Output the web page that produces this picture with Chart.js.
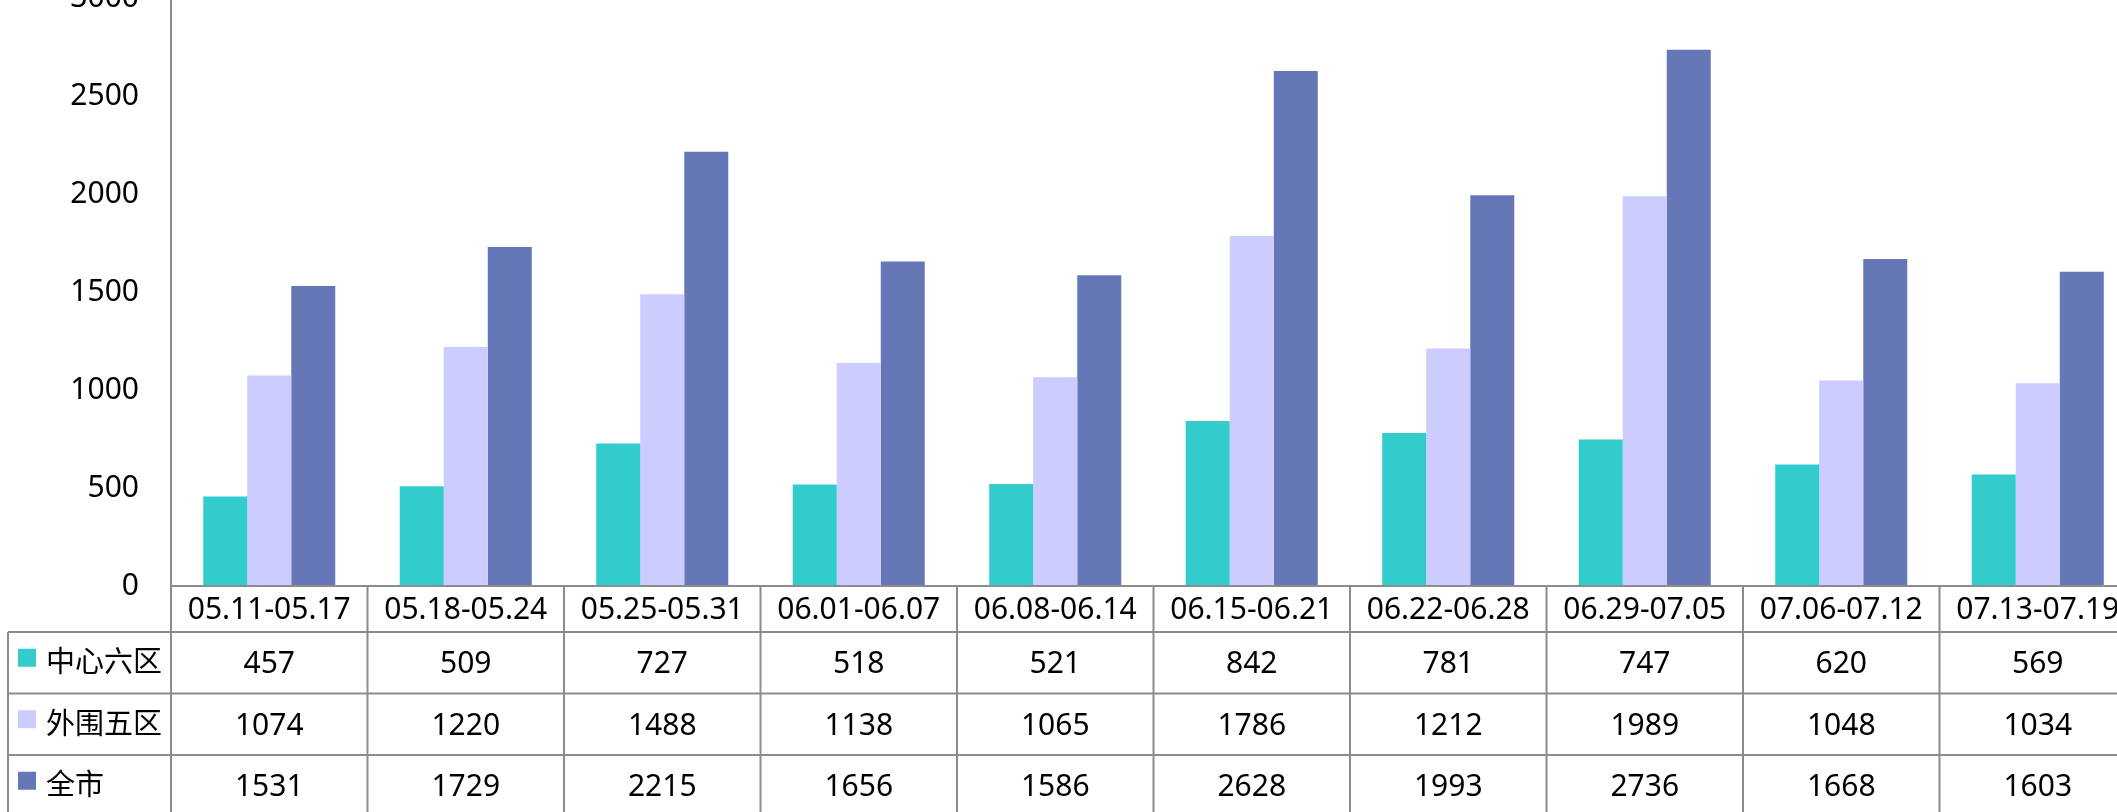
<!DOCTYPE html>
<html>
<head>
<meta charset="utf-8">
<script src="https://cdn.jsdelivr.net/npm/chart.js@4.4.0/dist/chart.umd.min.js"></script>
<style>
    html, body { margin: 0; padding: 0; background: #fff; overflow: hidden; }
    #wrap { position: absolute; left: 0; top: -2px; width: 2140px; height: 820px; }
</style>
</head>
<body>
<div id="wrap"><canvas id="weekChart"></canvas></div>
<script>
// 周期（类别）
const weeks = ['05.11-05.17', '05.18-05.24', '05.25-05.31', '06.01-06.07', '06.08-06.14',
    '06.15-06.21', '06.22-06.28', '06.29-07.05', '07.06-07.12', '07.13-07.19'];

// 各区域数据
const centerSix = [457, 509, 727, 518, 521, 842, 781, 747, 620, 569];
const outerFive = [1074, 1220, 1488, 1138, 1065, 1786, 1212, 1989, 1048, 1034];
const wholeCity = [1531, 1729, 2215, 1656, 1586, 2628, 1993, 2736, 1668, 1603];

const seriesNames = ['中心六区', '外围五区', '全市'];
const seriesColors = ['#33CCCC', '#CCCCFF', '#6677B8'];

// Y 轴刻度
const yMin = 0;
const yMax = 3000;
const yStep = 500;

const FONT = '"Noto Sans", "Noto Sans CJK SC", sans-serif';
const lineColor = '#8c8c8c';

// 图表下方的数据表（手工绘制）
const dataTable = {
    id: 'dataTable',
    afterDraw(chart) {
        const c = chart.ctx;
        const x = chart.scales.x;
        const area = chart.chartArea;
        const colW = x.width / weeks.length;
        const base = area.bottom;
        const headerH = 46;
        const rowH = 61.5;
        const tableLeft = 8;
        const rows = [centerSix, outerFive, wholeCity];

        c.save();
        c.strokeStyle = lineColor;
        c.lineWidth = 2;

        // 横线
        c.beginPath();
        c.moveTo(area.left, base);
        c.lineTo(x.right, base);
        for (let r = 0; r <= rows.length; r++) {
            const y = base + headerH + r * rowH;
            c.moveTo(tableLeft, y);
            c.lineTo(x.right, y);
        }
        // 竖线
        const bottom = chart.height;
        c.moveTo(tableLeft, base + headerH);
        c.lineTo(tableLeft, bottom);
        for (let i = 0; i <= weeks.length; i++) {
            const xx = x.left + i * colW;
            c.moveTo(xx, base);
            c.lineTo(xx, bottom);
        }
        c.stroke();

        c.fillStyle = '#000';
        c.textBaseline = 'middle';
        c.textAlign = 'center';
        c.font = '30px ' + FONT;
        weeks.forEach((w, i) => {
            c.fillText(w, x.getPixelForValue(i), base + headerH / 2 + 1);
        });

        rows.forEach((vals, r) => {
            const cy = base + headerH + r * rowH + rowH / 2;
            vals.forEach((v, i) => {
                c.textAlign = 'center';
                c.fillText(String(v), x.getPixelForValue(i), cy + 2);
            });
            // 图例色块 + 名称
            c.fillStyle = seriesColors[r];
            c.fillRect(18, cy - 14, 18, 18);
            c.fillStyle = '#000';
            c.textAlign = 'left';
            c.font = '29px ' + FONT;
            c.fillText(seriesNames[r], 46, cy + 1);
            c.font = '30px ' + FONT;
        });
        c.restore();
    }
};

const ctx = document.getElementById('weekChart').getContext('2d');
new Chart(ctx, {
    type: 'bar',
    data: {
        labels: weeks,
        datasets: [
            { label: seriesNames[0], data: centerSix, backgroundColor: seriesColors[0] },
            { label: seriesNames[1], data: outerFive, backgroundColor: seriesColors[1] },
            { label: seriesNames[2], data: wholeCity, backgroundColor: seriesColors[2] }
        ]
    },
    options: {
        responsive: true,
        maintainAspectRatio: false,
        animation: false,
        datasets: {
            bar: {
                categoryPercentage: 0.672,
                barPercentage: 1.0,
                borderWidth: 0
            }
        },
        layout: {
            padding: { left: 0, right: 4, top: 0, bottom: 232 }
        },
        plugins: {
            legend: { display: false },
            tooltip: { enabled: false }
        },
        scales: {
            x: {
                display: false
            },
            y: {
                min: yMin,
                max: yMax,
                afterFit(scale) {
                    scale.width = 171;
                    scale.paddingTop = 0;
                    scale.paddingBottom = 0;
                },
                afterBuildTicks(scale) {
                    const t = [];
                    for (let v = yMin; v <= yMax; v += yStep) t.push({ value: v });
                    scale.ticks = t;
                },
                grid: { display: false, drawTicks: false },
                border: { display: true, color: lineColor, width: 2 },
                ticks: {
                    color: '#000',
                    padding: 32,
                    font: { family: FONT, size: 30 },
                    callback: function(value) {
                        return String(value); // 不加千分位
                    }
                }
            }
        }
    },
    plugins: [dataTable]
});
</script>
</body>
</html>
